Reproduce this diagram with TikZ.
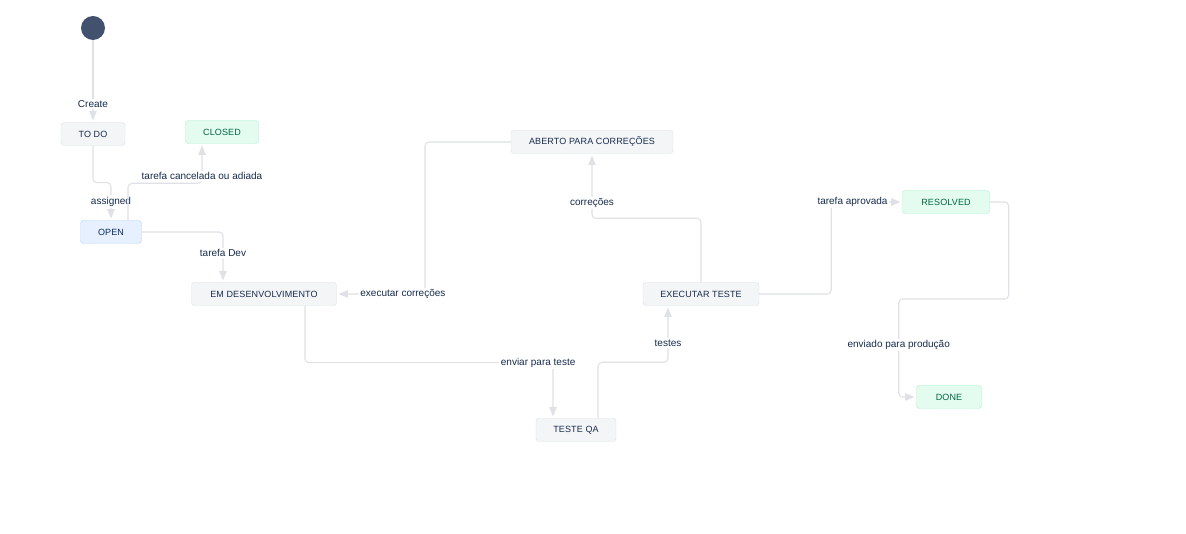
\documentclass[tikz,border=0pt]{standalone}
\usepackage{fontspec}
\setmainfont{Liberation Sans}
\usetikzlibrary{shapes,arrows,positioning}
\definecolor{navy}{HTML}{172B4D}
\definecolor{edgegray}{HTML}{DFE1E6}
\definecolor{boxfill}{HTML}{F4F5F7}
\definecolor{boxline}{HTML}{DCDFE4}
\definecolor{greenfill}{HTML}{E3FCEF}
\definecolor{greenline}{HTML}{A8F0CC}
\definecolor{greentext}{HTML}{006644}
\definecolor{bluefill}{HTML}{E6F0FF}
\definecolor{blueline}{HTML}{B3D4FF}
\definecolor{bluetext}{HTML}{0A2A66}
\definecolor{startgray}{HTML}{42526E}

\begin{document}
\begin{tikzpicture}[x=1pt,y=-1pt,->,>=triangle 45,shorten >=2pt,
            main node/.style={rectangle,rounded corners=3pt,draw=boxline,fill=boxfill,text=navy,
             font=\fontsize{9}{10}\selectfont\addfontfeatures{LetterSpace=1.5}, minimum height=23pt, inner sep=0pt},
            done node/.style={main node,draw=greenline,fill=greenfill,text=greentext},
            open node/.style={main node,draw=blueline,fill=bluefill,text=bluetext},
            lbl/.style={fill=white,inner sep=1.5pt,text=navy,font=\fontsize{10}{11}\selectfont},
            flow/.style={draw=edgegray,line width=1.1pt,rounded corners=4pt}]

            \useasboundingbox (0,0) rectangle (1186,534);

            \node[circle,fill=startgray,minimum size=24pt,inner sep=0pt] (start) at (93,28) {};
            \node[main node,minimum width=64pt] (TODO) at (93,134) {TO DO};
            \node[done node,minimum width=73pt] (CLOSED) at (222,132) {CLOSED};
            \node[open node,minimum width=61pt] (OPEN) at (111,232) {OPEN};
            \node[main node,minimum width=145pt] (DEV) at (264,294) {EM DESENVOLVIMENTO};
            \node[main node,minimum width=162pt] (ABERTO) at (592,142) {ABERTO PARA CORREÇÕES};
            \node[main node,minimum width=116pt] (EXEC) at (701,294) {EXECUTAR TESTE};
            \node[main node,minimum width=80pt] (QA) at (576,430) {TESTE QA};
            \node[done node,minimum width=87pt] (RESOLVED) at (946,202) {RESOLVED};
            \node[done node,minimum width=65pt] (DONE) at (949,397) {DONE};

            \path[flow]
            (start) -- node[lbl,pos=0.78] {Create} (TODO);
            \path[flow]
            (TODO.south) -- ++(0,37) -| node[lbl,pos=0.75] {assigned} (OPEN.north);
            \path[flow]
            ([xshift=17pt]OPEN.north) -- ++(0,-37) -| node[lbl,pos=0.59] {tarefa cancelada ou adiada} ([xshift=-20pt]CLOSED.south);
            \path[flow]
            (OPEN.east) -| node[lbl,pos=0.71] {tarefa Dev} ([xshift=-41pt]DEV.north);
            \path[flow]
            (ABERTO.west) -- (425,142) |- node[lbl,pos=0.625] {executar correções} (DEV.east);
            \path[flow]
            ([xshift=41pt]DEV.south) -- ++(0,57) -| node[lbl,pos=0.47] {enviar para teste} ([xshift=-23pt]QA.north);
            \path[flow]
            ([xshift=22pt]QA.north) -- ++(0,-56) -| node[lbl,pos=0.67] {testes} ([xshift=-33pt]EXEC.south);
            \path[flow]
            (EXEC.north) -- ++(0,-64) -| node[lbl,pos=0.62] {correções} (ABERTO.south);
            \path[flow]
            (EXEC.east) -- ++(72,0) |- node[lbl,pos=0.65] {tarefa aprovada} (RESOLVED.west);
            \path[flow]
            (RESOLVED.east) -- ++(19,0) -- ++(0,97) -- ++(-110,0) |- node[lbl,pos=0.235] {enviado para produção} (DONE.west);

\end{tikzpicture}
\end{document}
